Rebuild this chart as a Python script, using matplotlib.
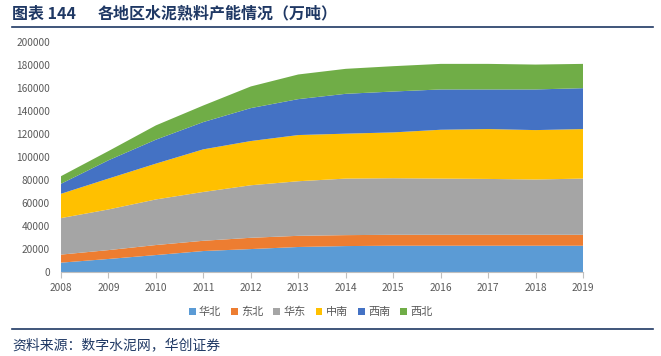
import numpy as np
import matplotlib
matplotlib.use("Agg")
from matplotlib import pyplot as plt
from matplotlib.patches import Patch

plt.rcParams['font.family'] = ['Noto Sans CJK SC', 'DejaVu Sans']

years = [2008, 2009, 2010, 2011, 2012, 2013, 2014, 2015, 2016, 2017, 2018, 2019]
regions = ["华北", "东北", "华东", "中南", "西南", "西北"]

# layer thickness per region (万吨)
huabei = [8100, 11300, 14700, 18200, 19900, 21700, 22500, 22800, 22800, 22800, 22800, 22800]
dongbei = [7000, 7700, 8700, 8900, 9800, 9700, 9500, 9500, 9500, 9500, 9500, 9500]
huadong = [31700, 35300, 39600, 42400, 45600, 47400, 49100, 49100, 48800, 48500, 48000, 48800]
zhongnan = [21100, 26800, 31100, 37000, 38400, 40100, 39000, 39800, 42400, 43300, 42900, 43000]
xinan = [8700, 15900, 20800, 23700, 28600, 31200, 34600, 35500, 35000, 34400, 35300, 35500]
xibei = [6600, 8000, 12400, 14400, 18800, 21400, 21700, 22000, 22200, 22200, 21600, 21100]

colors = ["#5B9BD5", "#ED7D31", "#A5A5A5", "#FFC000", "#4472C4", "#70AD47"]

fig = plt.figure(figsize=(6.61, 3.56), dpi=100)
ax = fig.add_axes([0.0923, 0.236, 0.7897, 0.647])

ax.stackplot(years, huabei, dongbei, huadong, zhongnan, xinan, xibei,
             colors=colors, edgecolor="none")

ax.set_xlim(2008, 2019)
ax.set_ylim(0, 200000)
ax.set_xticks(years)
ax.set_yticks(np.arange(0, 200001, 20000))
ax.tick_params(axis="y", length=0, labelsize=7.3, labelcolor="#595959", pad=8)
ax.tick_params(axis="x", length=4, color="#BFBFBF", labelsize=7.3,
               labelcolor="#595959", pad=4)
for s in ["top", "right", "left"]:
    ax.spines[s].set_visible(False)
ax.spines["bottom"].set_color("#BFBFBF")

handles = [Patch(facecolor=c, edgecolor="none") for c in colors]
fig.legend(handles, regions, loc="center", bbox_to_anchor=(0.47, 0.123),
           ncol=6, frameon=False, fontsize=8, handlelength=0.6, handleheight=0.6,
           handletextpad=0.3, columnspacing=0.9, labelcolor="#595959")

# title and frame lines
fig.text(0.018, 0.962, "图表 144", fontsize=11.5,
         fontweight="bold", color="#1F3864", va="center", ha="left")
fig.text(0.148, 0.962, "各地区水泥熟料产能情况（万吨）", fontsize=11.5,
         fontweight="bold", color="#1F3864", va="center", ha="left")
fig.add_artist(plt.Line2D([0.018, 0.988], [0.924, 0.924], color="#1F3864", lw=1.2))
fig.add_artist(plt.Line2D([0.018, 0.988], [0.076, 0.076], color="#1F3864", lw=1.2))
fig.text(0.018, 0.03, "资料来源：数字水泥网，华创证券", fontsize=10, style="italic",
         color="#1F3864", va="center", ha="left")

plt.savefig("out.png", dpi=100)
